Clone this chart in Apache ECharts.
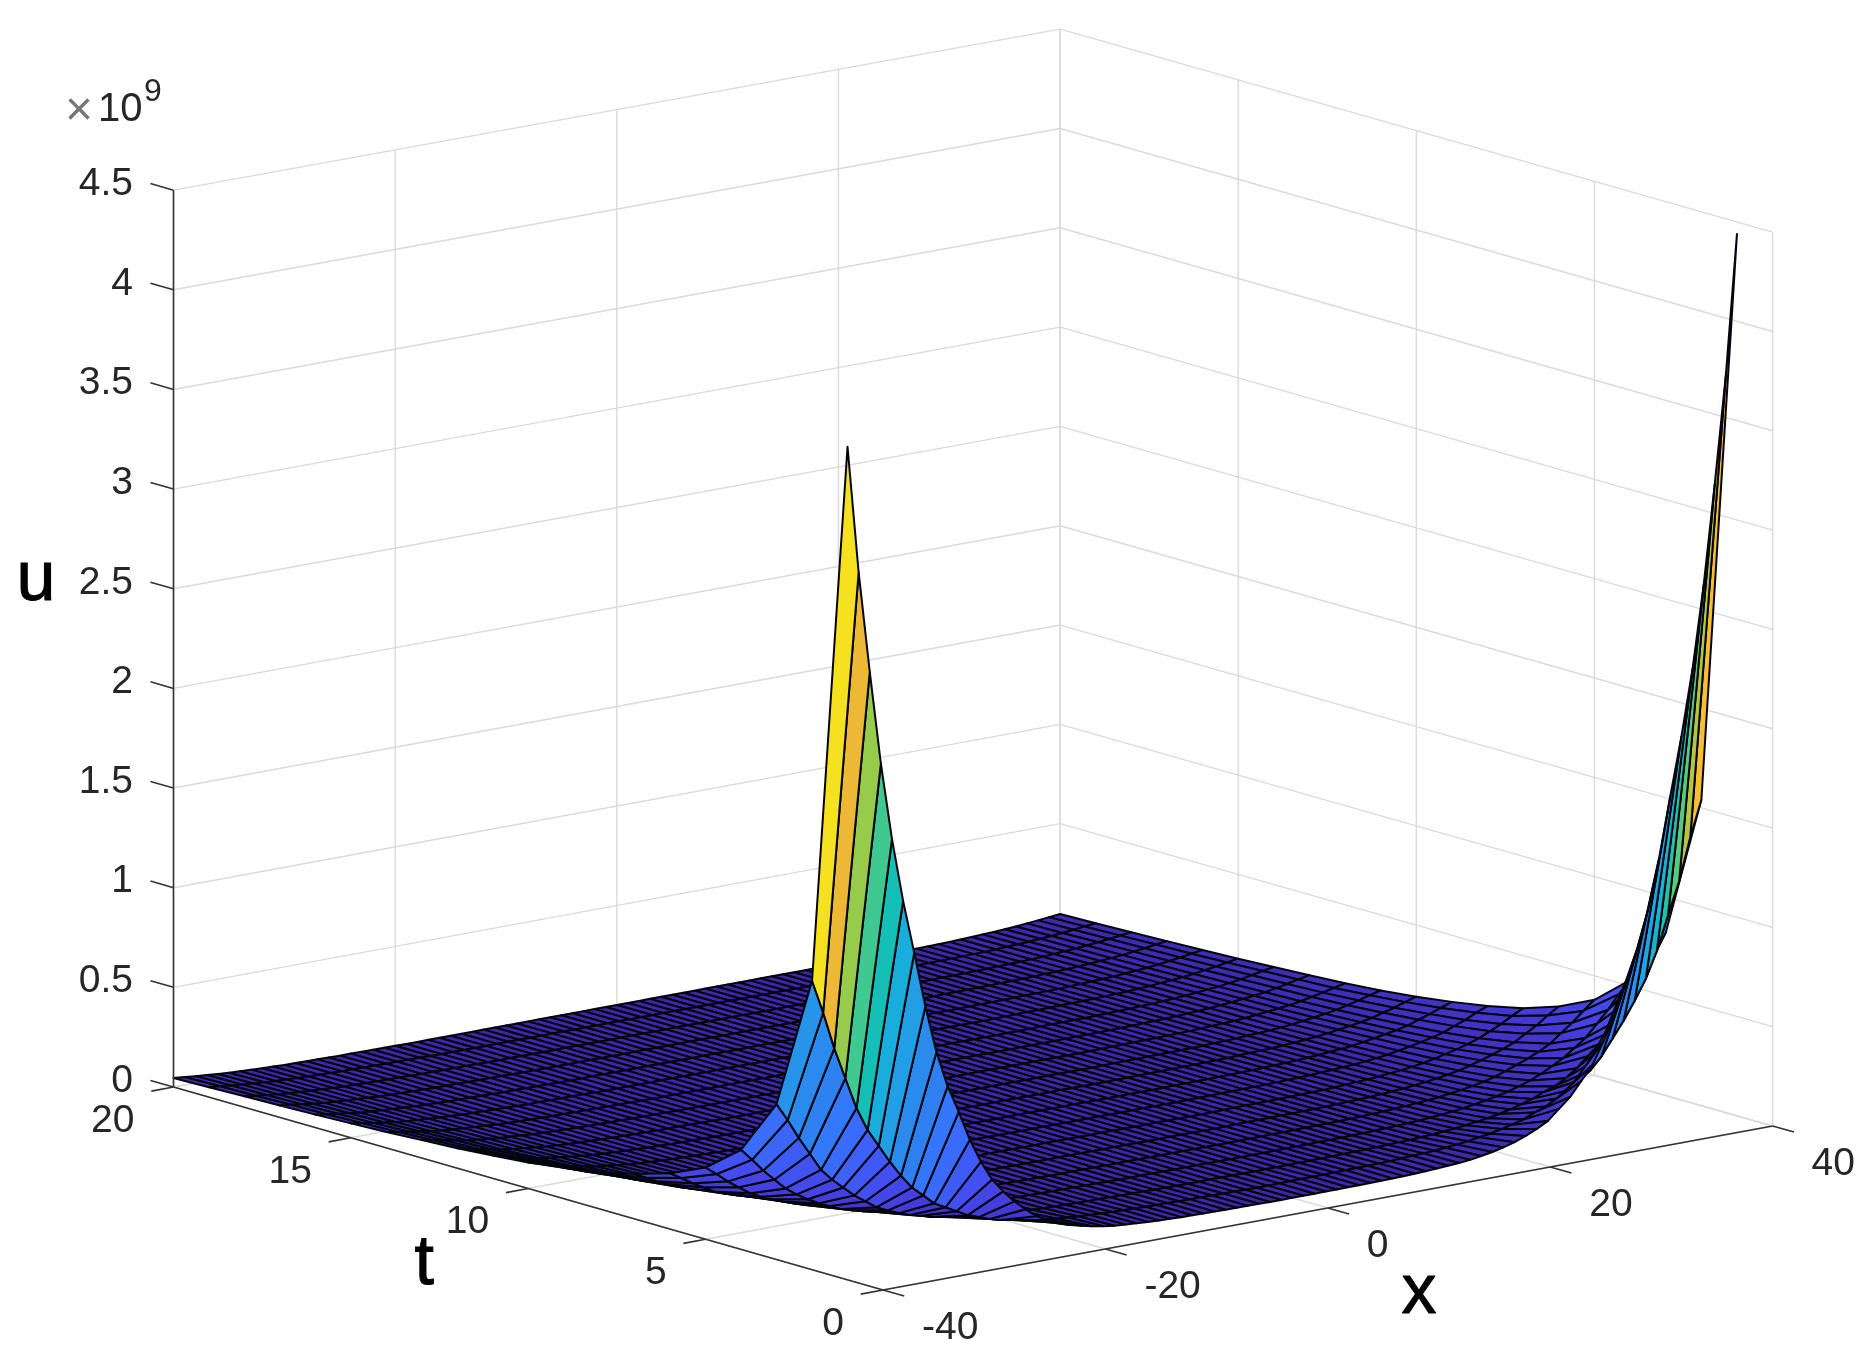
<!DOCTYPE html>
<html>
<head>
<meta charset="utf-8">
<style>
  html, body { margin: 0; padding: 0; background: #fff; }
  #chart { width: 1869px; height: 1350px; }
</style>
<script src="https://cdn.jsdelivr.net/npm/echarts@6/dist/echarts.min.js"></script>
</head>
<body>
<div id="chart"></div>
<script>
// mesh positions
const xValues = [-40,-39,-38,-37,-36,-35,-34,-33,-32,-31,-30,-29,-28,-27,-26,-25,-24,-23,-22,-21,
  -20,-19,-18,-17,-16,-15,-14,-13,-12,-11,-10,-9,-8,-7,-6,-5,-4,-3,-2,-1,
  0,1,2,3,4,5,6,7,8,9,10,11,12,13,14,15,16,17,18,19,
  20,21,22,23,24,25,26,27,28,29,30,31,32,33,34,35,36,37,38,39,40];
const tValues = [1,2,3,4,5,6,7,8,9,10,11,12,13,14,15,16,17,18,19,20];

// u in units of 1e7, one row per t. Left rows start at x=-40 going right,
// right rows start at x=40 going left; the middle of each row is flat at 0
const uLeftRows = [
  [418,354,303,256,217,185,158,130,106,88,74,59,47,37,30,24,19,14.5,11.5,9,7,5.5,4.3,3.3,2.5,2,1.6,1.3,1,.8,.6,.5,.4,.3,.2,.2,.1,.1],
  [145,128,109,93,77,65,56,47,39,32,27,22,19,16,13,11,9,7.5,6.4,5.2,4.4,3.6,2.9,2.5,2,1.7,1.5,1.2,1,.9,.7,.6,.5,.4,.3,.3,.2,.2,.1],
  [78,69,59,50,41,35,30,25,21,17,14.4,12,10,8.6,7,5.9,4.8,4.1,3.4,2.8,2.3,2,1.6,1.3,1.1,.9,.8,.6,.5,.5,.4,.3,.2,.2,.1],
  [50,44,37.5,32,26.5,22.5,19,16,13.5,11,9.3,7.8,6.5,5.5,4.5,3.8,3.1,2.6,2.2,1.8,1.5,1.3,1,.9,.7,.6,.5,.4,.4,.3,.2,.2,.1],
  [36,31.7,27,23,19,16.2,13.9,11.7,9.7,7.9,6.7,5.6,4.7,4,3.2,2.7,2.2,1.9,1.6,1.3,1.1,.9,.7,.6,.5,.4,.4,.3,.2,.2,.1],
  [28,24.6,21,17.9,14.8,12.6,10.8,9.1,7.6,6.2,5.2,4.3,3.6,3.1,2.5,2.1,1.7,1.5,1.2,1,.8,.7,.6,.5,.4,.3,.3,.2,.2,.1],
  [22.5,19.8,16.9,14.4,11.9,10.1,8.7,7.3,6.1,5,4.2,3.5,2.9,2.5,2,1.7,1.4,1.2,1,.8,.7,.6,.5,.4,.3,.3,.2,.2,.1],
  [18.5,16.3,13.9,11.8,9.8,8.3,7.1,6,5,4.1,3.4,2.9,2.4,2,1.7,1.4,1.1,1,.8,.7,.6,.5,.4,.3,.3,.2,.2,.1],
  [15.5,13.6,11.6,9.9,8.2,7,6,5,4.2,3.4,2.9,2.4,2,1.7,1.4,1.2,1,.8,.7,.6,.5,.4,.3,.3,.2,.2,.1],
  [13,11.4,9.8,8.3,6.9,5.9,5,4.2,3.5,2.9,2.4,2,1.7,1.4,1.2,1,.8,.7,.6,.5,.4,.3,.3,.2,.2,.1],
  [11.5,10.1,8.6,7.4,6.1,5.2,4.4,3.7,3.1,2.5,2.1,1.8,1.5,1.3,1,.9,.7,.6,.5,.4,.3,.3,.2,.2,.1],
  [10,8.8,7.5,6.4,5.3,4.5,3.9,3.3,2.7,2.2,1.9,1.6,1.3,1.1,.9,.8,.6,.5,.4,.4,.3,.3,.2,.1],
  [9,7.9,6.8,5.8,4.8,4.1,3.5,2.9,2.4,2,1.7,1.4,1.2,1,.8,.7,.6,.5,.4,.3,.3,.2,.2,.1],
  [8,7,6,5.1,4.2,3.6,3.1,2.6,2.2,1.8,1.5,1.2,1,.9,.7,.6,.5,.4,.4,.3,.2,.2,.1],
  [7.2,6.3,5.4,4.6,3.8,3.2,2.8,2.3,1.9,1.6,1.3,1.1,.9,.8,.6,.5,.4,.4,.3,.3,.2,.2,.1],
  [6.5,5.7,4.9,4.2,3.4,2.9,2.5,2.1,1.8,1.4,1.2,1,.8,.7,.6,.5,.4,.3,.3,.2,.2,.1],
  [6,5.3,4.5,3.8,3.2,2.7,2.3,2,1.6,1.3,1.1,.9,.8,.7,.5,.5,.4,.3,.3,.2,.2,.1],
  [5.5,4.8,4.1,3.5,2.9,2.5,2.1,1.8,1.5,1.2,1,.9,.7,.6,.5,.4,.3,.3,.2,.2,.2,.1],
  [5,4.4,3.8,3.2,2.7,2.3,1.9,1.6,1.4,1.1,.9,.8,.7,.6,.5,.4,.3,.3,.2,.2,.1],
  [4.5,4,3.4,2.9,2.4,2,1.7,1.5,1.2,1,.8,.7,.6,.5,.4,.3,.3,.2,.2,.2,.1]
];
const uRightRows = [
  [444,374,320,270,229,196,167,137,112,93,78,62,50,39,32,25,20,15,12,9.5,7.4,5.8,4.5,3.5,2.6,2.1,1.7,1.4,1,.8,.6,.5,.4,.3,.2,.2,.1,.1],
  [154,136,115,99,82,69,59,50,42,34,28,24,20,17,14,12,9.5,8,6.8,5.5,4.7,3.8,3.1,2.6,2.1,1.8,1.6,1.3,1,.9,.7,.6,.5,.4,.3,.3,.2,.2,.1],
  [82,72,62,52,43,37,32,27,22,18,15,13,10.7,9,7.4,6.2,5.1,4.3,3.6,3,2.5,2.1,1.7,1.4,1.2,1,.8,.7,.6,.5,.4,.3,.2,.2,.1],
  [53,47,40,34,28,24,20,17,14,11.7,9.8,8.2,6.9,5.8,4.8,4,3.3,2.8,2.3,1.9,1.6,1.3,1.1,.9,.7,.6,.5,.4,.4,.3,.2,.2,.1],
  [38,33.4,28.5,24.3,20,17,14.6,12.4,10.3,8.4,7,5.9,4.9,4.2,3.4,2.9,2.4,2,1.7,1.4,1.1,.9,.8,.6,.5,.5,.4,.3,.2,.2,.1],
  [29.5,26,22,18.9,15.6,13.3,11.4,9.6,8,6.5,5.5,4.6,3.8,3.2,2.7,2.2,1.8,1.5,1.3,1.1,.9,.7,.6,.5,.4,.4,.3,.2,.2,.1],
  [23.5,20.7,17.6,15,12.5,10.6,9,7.6,6.3,5.2,4.3,3.6,3.1,2.6,2.1,1.8,1.5,1.2,1,.8,.7,.6,.5,.4,.3,.3,.2,.2,.1],
  [19.5,17.2,14.6,12.5,10.3,8.8,7.5,6.3,5.3,4.3,3.6,3,2.5,2.1,1.8,1.5,1.2,1,.9,.7,.6,.5,.4,.3,.3,.2,.2,.1],
  [16.5,14.5,12.4,10.6,8.7,7.4,6.4,5.4,4.5,3.6,3.1,2.6,2.1,1.8,1.5,1.2,1,.9,.7,.6,.5,.4,.3,.3,.2,.2,.1],
  [14,12.3,10.5,9,7.4,6.3,5.4,4.6,3.8,3.1,2.6,2.2,1.8,1.5,1.3,1.1,.9,.7,.6,.5,.4,.4,.3,.2,.2,.1],
  [12,10.6,9,7.7,6.4,5.4,4.6,3.9,3.2,2.6,2.2,1.9,1.6,1.3,1.1,.9,.7,.6,.5,.4,.4,.3,.2,.2,.1],
  [10.5,9.2,7.9,6.7,5.6,4.7,4,3.4,2.8,2.3,1.9,1.6,1.4,1.2,.9,.8,.7,.5,.5,.4,.3,.3,.2,.1],
  [9.5,8.4,7.1,6.1,5,4.3,3.7,3.1,2.6,2.1,1.8,1.5,1.2,1,.9,.7,.6,.5,.4,.3,.3,.2,.2,.1],
  [8.5,7.5,6.4,5.4,4.5,3.8,3.3,2.8,2.3,1.9,1.6,1.3,1.1,.9,.8,.6,.5,.4,.4,.3,.3,.2,.1],
  [7.6,6.7,5.7,4.9,4,3.4,2.9,2.5,2.1,1.7,1.4,1.2,1,.8,.7,.6,.5,.4,.3,.3,.2,.2,.1],
  [6.8,6,5.1,4.4,3.6,3.1,2.6,2.2,1.8,1.5,1.3,1.1,.9,.7,.6,.5,.4,.4,.3,.2,.2,.1],
  [6.2,5.5,4.7,4,3.3,2.8,2.4,2,1.7,1.4,1.1,1,.8,.7,.6,.5,.4,.3,.3,.2,.2,.1],
  [5.6,4.9,4.2,3.6,3,2.5,2.2,1.8,1.5,1.2,1,.9,.7,.6,.5,.4,.3,.3,.2,.2,.2,.1],
  [5,4.4,3.8,3.2,2.7,2.3,1.9,1.6,1.4,1.1,.9,.8,.7,.6,.5,.4,.3,.3,.2,.2,.1],
  [4.5,4,3.4,2.9,2.4,2,1.7,1.5,1.2,1,.8,.7,.6,.5,.4,.3,.3,.2,.2,.2,.1]
];

const xTicks = [-40,-20,0,20,40];
const tTicks = [0,5,10,15,20];
const uTicks = [0,0.5,1,1.5,2,2.5,3,3.5,4,4.5];

const xLim = [-40, 40], tLim = [0, 20], uLim = [0, 4.5];

// parula as sampled from the cells: [share of the colour range, colour]
const colorStops = [
  [0,'#3e26a8'],[.03,'#4231c4'],[.07,'#453fe0'],[.1,'#444cee'],[.135,'#3f5cf7'],
  [.17,'#3a6bfc'],[.2,'#3577ff'],[.24,'#2e80f0'],[.295,'#2a8bed'],[.36,'#219fe5'],
  [.42,'#18aedb'],[.49,'#15bfb5'],[.58,'#41c88e'],[.69,'#9dcb46'],[.8,'#efb835'],
  [.88,'#fcc62f'],[.95,'#f5e51f'],[1,'#f9fb15']
];

// the 3d box as it lies on the canvas: corner at x=-40,t=0,u=0 and one unit along each axis
const origin = [883, 1290];
const perX = [11.12, -2.05];
const perT = [-35.475, -10.15];
const perU = 199.3; // px per 1e9
// slight perspective of the original view, px at the far corner and far top
const farShiftX = -3, farShrinkU = 3;

function project(x, t, u) {
  const a = (x - xLim[0]) / (xLim[1] - xLim[0]);
  const b = t / tLim[1];
  return [
    origin[0] + (x - xLim[0]) * perX[0] + t * perT[0] + farShiftX * a * b,
    origin[1] + (x - xLim[0]) * perX[1] + t * perT[1] - u * perU + farShrinkU * a * u / uLim[1]
  ];
}

function hexRgb(h) {
  return [parseInt(h.slice(1,3),16), parseInt(h.slice(3,5),16), parseInt(h.slice(5,7),16)];
}

function parula(v) {
  for (let i = 1; i < colorStops.length; i++) {
    if (v <= colorStops[i][0]) {
      const a = colorStops[i-1], b = colorStops[i];
      const k = (v - a[0]) / (b[0] - a[0]);
      const c1 = hexRgb(a[1]), c2 = hexRgb(b[1]);
      return 'rgb(' + c1.map((c, n) => Math.round(c + (c2[n] - c) * k)).join(',') + ')';
    }
  }
  return colorStops[colorStops.length-1][1];
}

// u matrix in 1e9, zero where a row lists nothing
const uMatrix = tValues.map((t, r) => {
  const row = xValues.map(() => 0);
  uLeftRows[r].forEach((v, k) => { row[k] = v / 100; });
  uRightRows[r].forEach((v, k) => { row[xValues.length - 1 - k] = v / 100; });
  return row;
});
const uMax = Math.max(...uMatrix.map(r => Math.max(...r)));

// far cells first so the nearer ones paint over them
const cellData = [];
for (let r = tValues.length - 2; r >= 0; r--) {
  for (let c = xValues.length - 2; c >= 0; c--) {
    cellData.push([xValues[c], tValues[r], c, r]);
  }
}

const gridLines = [];
xTicks.forEach(x => {
  gridLines.push([x, tLim[0], 0, x, tLim[1], 0]);
  gridLines.push([x, tLim[1], uLim[0], x, tLim[1], uLim[1]]);
});
tTicks.forEach(t => {
  gridLines.push([xLim[0], t, 0, xLim[1], t, 0]);
  gridLines.push([xLim[1], t, uLim[0], xLim[1], t, uLim[1]]);
});
uTicks.forEach(u => {
  gridLines.push([xLim[0], tLim[1], u, xLim[1], tLim[1], u]);
  gridLines.push([xLim[1], tLim[1], u, xLim[1], tLim[0], u]);
});

const axisLines = [
  [xLim[0], tLim[1], uLim[0], xLim[0], tLim[1], uLim[1]],
  [xLim[0], tLim[0], 0, xLim[0], tLim[1], 0],
  [xLim[0], tLim[0], 0, xLim[1], tLim[0], 0]
];
xTicks.forEach(x => axisLines.push([x, 0, 0, x, -0.6, 0]));
tTicks.forEach(t => axisLines.push([-40, t, 0, -42, t, 0]));
uTicks.forEach(u => axisLines.push([-40, 20, u, -40, 20.65, u]));

const tickTexts = [];
uTicks.forEach(u => {
  const p = project(-40, 20, u);
  tickTexts.push([String(u), p[0] - 40.5, p[1] - 6, 'right']);
});
tTicks.forEach(t => {
  const p = project(-40, t, 0);
  tickTexts.push([String(t), p[0] - 39, p[1] + 34, 'right']);
});
xTicks.forEach(x => {
  const p = project(x, 0, 0);
  tickTexts.push([String(x), p[0] + 39, p[1] + 38, 'left']);
});

function lineItem(params, api, stroke, width) {
  const a = project(api.value(0), api.value(1), api.value(2));
  const b = project(api.value(3), api.value(4), api.value(5));
  const p1 = api.coord(a), p2 = api.coord(b);
  return {
    type: 'line',
    shape: { x1: p1[0], y1: p1[1], x2: p2[0], y2: p2[1] },
    style: { stroke: stroke, lineWidth: width }
  };
}

const chart = echarts.init(document.getElementById('chart'));
const font = '"Liberation Sans", Arial, sans-serif';

chart.setOption({
  animation: false,
  backgroundColor: '#ffffff',
  grid: { left: 0, right: 0, top: 0, bottom: 0 },
  xAxis: { type: 'value', min: 0, max: 1869, show: false },
  yAxis: { type: 'value', min: 0, max: 1350, inverse: true, show: false },
  graphic: [
    { type: 'text', left: 65, top: 88, style: { text: '×', font: '48px ' + font, fill: '#777777' } },
    { type: 'text', left: 98, top: 90, style: { text: '10', font: '40px ' + font, fill: '#262626' } },
    { type: 'text', left: 144, top: 76, style: { text: '9', font: '32px ' + font, fill: '#262626' } },
    { type: 'text', left: 16, top: 545, style: { text: 'u', font: '70px ' + font, fill: '#000', stroke: '#000', lineWidth: 1 } },
    { type: 'text', left: 414, top: 1229, style: { text: 't', font: '70px ' + font, fill: '#000', stroke: '#000', lineWidth: 1 } },
    { type: 'text', left: 1401, top: 1258, style: { text: 'x', font: '70px ' + font, fill: '#000', stroke: '#000', lineWidth: 1 } }
  ],
  series: [
    {
      type: 'custom',
      coordinateSystem: 'cartesian2d',
      clip: false,
      silent: true,
      z: 1,
      data: gridLines,
      renderItem: (params, api) => lineItem(params, api, '#dadada', 1.4)
    },
    {
      type: 'custom',
      coordinateSystem: 'cartesian2d',
      clip: false,
      silent: true,
      z: 2,
      progressive: 0,
      data: cellData,
      renderItem: (params, api) => {
        const c = api.value(2), r = api.value(3);
        const corners = [[c, r], [c + 1, r], [c + 1, r + 1], [c, r + 1]];
        const points = corners.map(q =>
          api.coord(project(xValues[q[0]], tValues[q[1]], uMatrix[q[1]][q[0]])));
        return {
          type: 'polygon',
          shape: { points: points },
          style: {
            fill: parula(uMatrix[r][c] / uMax),
            stroke: '#05050e',
            lineWidth: 2,
            lineJoin: 'round'
          }
        };
      }
    },
    {
      type: 'custom',
      coordinateSystem: 'cartesian2d',
      clip: false,
      silent: true,
      z: 3,
      data: axisLines,
      renderItem: (params, api) => lineItem(params, api, '#333333', 1.6)
    },
    {
      type: 'custom',
      coordinateSystem: 'cartesian2d',
      clip: false,
      silent: true,
      z: 4,
      data: tickTexts.map((d, i) => [d[1], d[2], i]),
      renderItem: (params, api) => {
        const d = tickTexts[api.value(2)];
        const p = api.coord([api.value(0), api.value(1)]);
        return {
          type: 'text',
          style: {
            text: d[0],
            x: p[0],
            y: p[1],
            align: d[3],
            verticalAlign: 'middle',
            font: '39px ' + font,
            fill: '#262626'
          }
        };
      }
    }
  ]
});
</script>
</body>
</html>
